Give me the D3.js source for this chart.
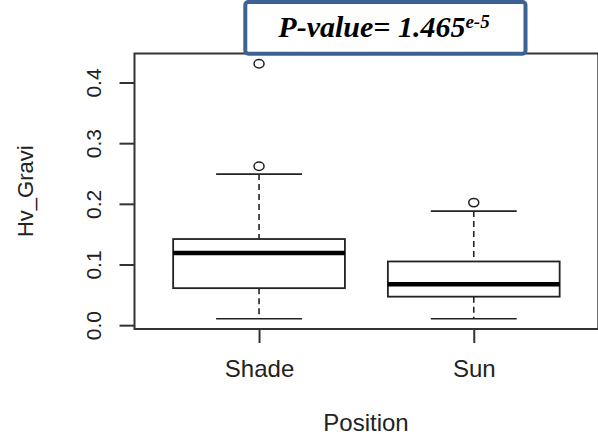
<!DOCTYPE html>
<html>
<head>
<meta charset="utf-8">
<script src="https://cdn.jsdelivr.net/npm/d3@7"></script>
<style>
  html, body { margin: 0; padding: 0; background: #fff; }
  svg { display: block; }
</style>
</head>
<body>
<div id="chart"></div>
<script>
const width = 598
const height = 436

// boxplot stats
const categories = ["Shade", "Sun"]
const whiskerLow = [0.0105, 0.0105]
const q1 = [0.061, 0.047]
const median = [0.119, 0.0676]
const q3 = [0.142, 0.105]
const whiskerHigh = [0.249, 0.188]
const outliers = [[0.262, 0.431], [0.202]]
const yTicks = [0.0, 0.1, 0.2, 0.3, 0.4]

const ink = "#222"
const frame = "#333"

const svg = d3.select("#chart")
  .append("svg")
  .attr("width", width)
  .attr("height", height)

// R style: 4% padding on both axes
const lo = d3.min(whiskerLow)
const hi = d3.max(outliers.flat().concat(whiskerHigh))
const pad = (hi - lo) * 0.04

const x = d3.scaleLinear()
  .domain([0.42, 2.58])
  .range([134.5, 598.3])

const y = d3.scaleLinear()
  .domain([lo - pad, hi + pad])
  .range([329, 53.5])

const boxes = categories.map((c, i) => ({
  name: c, pos: i + 1,
  lo: whiskerLow[i], q1: q1[i], med: median[i], q3: q3[i], hi: whiskerHigh[i],
  out: outliers[i]
}))

// plot frame
svg.append("rect")
  .attr("x", x(0.42))
  .attr("y", y(hi + pad))
  .attr("width", x(2.58) - x(0.42))
  .attr("height", y(lo - pad) - y(hi + pad))
  .attr("fill", "none")
  .attr("stroke", frame)
  .attr("stroke-width", 2)

// y axis
const yAxis = d3.axisLeft(y)
  .tickValues(yTicks)
  .tickSize(15)
  .tickPadding(0)
  .tickFormat(d3.format(".1f"))

const yg = svg.append("g")
  .attr("transform", `translate(${x(0.42)},0)`)
  .call(yAxis)
yg.select(".domain").remove()
yg.selectAll(".tick line").attr("stroke", frame).attr("stroke-width", 2)
yg.selectAll(".tick text")
  .attr("x", 0).attr("dy", 0)
  .attr("transform", "translate(-33.5,0) rotate(-90)")
  .attr("text-anchor", "middle")
  .attr("fill", ink)
  .style("font-family", "'Liberation Sans', Arial, sans-serif")
  .style("font-size", "21px")

// x axis
const xAxis = d3.axisBottom(x)
  .tickValues(boxes.map(b => b.pos))
  .tickSize(14)
  .tickPadding(0)
  .tickFormat((d, i) => categories[i])

const xg = svg.append("g")
  .attr("transform", `translate(0,${y(lo - pad)})`)
  .call(xAxis)
xg.select(".domain").remove()
xg.selectAll(".tick line").attr("stroke", frame).attr("stroke-width", 2)
xg.selectAll(".tick text")
  .attr("y", 48).attr("dy", 0)
  .attr("fill", ink)
  .style("font-family", "'Liberation Sans', Arial, sans-serif")
  .style("font-size", "24px")

// boxes
const g = svg.selectAll("g.box")
  .data(boxes)
  .join("g")
    .attr("class", "box")

g.append("line")
  .attr("x1", d => x(d.pos)).attr("x2", d => x(d.pos))
  .attr("y1", d => y(d.hi)).attr("y2", d => y(d.q3))
  .attr("stroke", ink).attr("stroke-width", 1.6)
  .attr("stroke-dasharray", "6,4")

g.append("line")
  .attr("x1", d => x(d.pos)).attr("x2", d => x(d.pos))
  .attr("y1", d => y(d.q1)).attr("y2", d => y(d.lo))
  .attr("stroke", ink).attr("stroke-width", 1.6)
  .attr("stroke-dasharray", "6,4")

g.selectAll("line.cap")
  .data(d => [d, d].map((b, k) => ({pos: b.pos, v: k ? b.lo : b.hi})))
  .join("line")
    .attr("class", "cap")
    .attr("x1", d => x(d.pos - 0.2)).attr("x2", d => x(d.pos + 0.2))
    .attr("y1", d => y(d.v)).attr("y2", d => y(d.v))
    .attr("stroke", ink).attr("stroke-width", 1.6)

g.append("rect")
  .attr("x", d => x(d.pos - 0.4))
  .attr("y", d => y(d.q3))
  .attr("width", d => x(d.pos + 0.4) - x(d.pos - 0.4))
  .attr("height", d => y(d.q1) - y(d.q3))
  .attr("fill", "#fff")
  .attr("stroke", ink).attr("stroke-width", 1.8)

g.append("line")
  .attr("x1", d => x(d.pos - 0.4)).attr("x2", d => x(d.pos + 0.4))
  .attr("y1", d => y(d.med)).attr("y2", d => y(d.med))
  .attr("stroke", "#000").attr("stroke-width", 4.5)

g.selectAll("ellipse")
  .data(d => d.out.map(v => ({pos: d.pos, v})))
  .join("ellipse")
    .attr("cx", d => x(d.pos))
    .attr("cy", d => y(d.v))
    .attr("rx", 5)
    .attr("ry", 4.2)
    .attr("fill", "none")
    .attr("stroke", ink).attr("stroke-width", 1.5)

// axis titles
svg.append("text")
  .attr("transform", `translate(33,${(y(lo - pad) + y(hi + pad)) / 2}) rotate(-90)`)
  .attr("text-anchor", "middle")
  .attr("fill", ink)
  .style("font-family", "'Liberation Sans', Arial, sans-serif")
  .style("font-size", "22px")
  .text("Hv_Gravi")

svg.append("text")
  .attr("x", 366)
  .attr("y", 431)
  .attr("text-anchor", "middle")
  .attr("fill", ink)
  .style("font-family", "'Liberation Sans', Arial, sans-serif")
  .style("font-size", "24px")
  .text("Position")

// p-value callout
svg.append("rect")
  .attr("x", 245.3).attr("y", 2)
  .attr("width", 280.2).attr("height", 51.8)
  .attr("rx", 3)
  .attr("fill", "#fff")
  .attr("stroke", "#3d6193")
  .attr("stroke-width", 4)

const pv = svg.append("text")
  .attr("x", 384)
  .attr("y", 36.5)
  .attr("text-anchor", "middle")
  .attr("fill", "#000")
  .style("font-family", "'Liberation Serif', 'Times New Roman', serif")
  .style("font-weight", "bold")
  .style("font-style", "italic")
  .style("font-size", "30px")
pv.append("tspan").text("P-value= 1.465")
pv.append("tspan")
  .attr("dy", -9)
  .style("font-size", "19px")
  .text("e-5")
</script>
</body>
</html>
